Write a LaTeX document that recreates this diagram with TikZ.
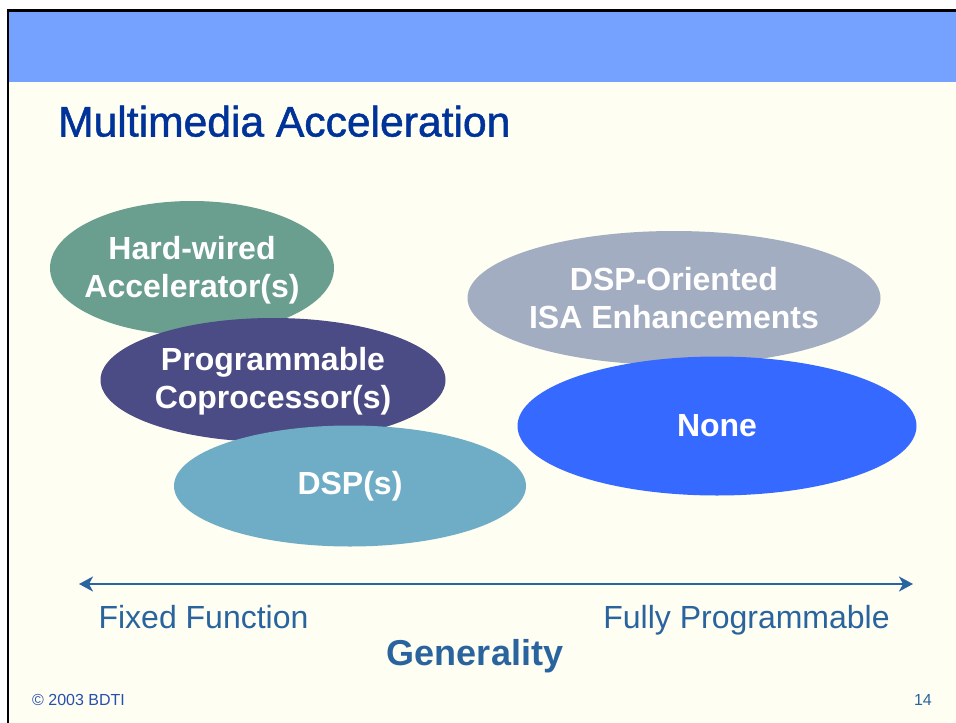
\documentclass[tikz,border=0pt]{standalone}
\usepackage{fontspec}
\setmainfont{Liberation Sans}
\newfontfamily\headfont[FakeBold=1.2]{Liberation Sans}
\usetikzlibrary{shapes.geometric,arrows.meta}

\definecolor{cream}{RGB}{254,254,242}
\definecolor{band}{RGB}{116,162,254}
\definecolor{titleblue}{RGB}{0,51,153}
\definecolor{steel}{RGB}{42,100,158}
\definecolor{footblue}{RGB}{40,80,170}
\definecolor{hwgreen}{RGB}{106,158,143}
\definecolor{copurple}{RGB}{75,75,133}
\definecolor{dspteal}{RGB}{110,173,197}
\definecolor{isagrey}{RGB}{163,173,193}
\definecolor{noneblue}{RGB}{54,105,255}

\tikzset{
  blob/.style={ellipse, draw=none, inner sep=0pt},
  blobtext/.style={text=white, align=center, font=\fontsize{32}{38}\selectfont\bfseries},
  axislabel/.style={text=steel, anchor=base, inner sep=0pt, font=\fontsize{32}{38}\selectfont},
  footer/.style={inner sep=0pt, font=\fontsize{16}{19}\selectfont}
}

\begin{document}
\begin{tikzpicture}[x=1pt, y=-1pt]
  \useasboundingbox (0,0) rectangle (956,723);
  \clip (0,0) rectangle (956,723);

  % slide page, header band and frame
  \fill[white] (0,0) rectangle (956,723);
  \fill[cream] (7.8,10.5) rectangle (970,740);
  \fill[band] (9,12) rectangle (970,82);
  \draw[black, line width=2.5pt] (7.8,740) -- (7.8,10.5) -- (970,10.5);

  % title
  \node[anchor=base west, inner sep=0pt, text=titleblue,
        font=\headfont\fontsize{42.6}{50}\selectfont] (title) at (58,136.5) {Multimedia Acceleration};

  % left group of ellipses (back to front)
  \node[blob, fill=hwgreen, minimum width=284pt, minimum height=134pt] (hw) at (192,268) {};
  \node[blobtext] (hwt) at ([yshift=-2pt]hw.center) {Hard-wired\\Accelerator(s)};
  \node[blob, fill=copurple, minimum width=345pt, minimum height=124pt] (cp) at (273,380) {};
  \node[blobtext] (cpt) at ([yshift=-1pt]cp.center) {Programmable\\Coprocessor(s)};
  \node[blob, fill=dspteal, minimum width=352pt, minimum height=121pt] (dsp) at (350,486) {};
  \node[blobtext] (dspt) at (dsp.center) {DSP(s)};

  % right group of ellipses
  \node[blob, fill=isagrey, minimum width=413pt, minimum height=134pt] (isa) at (674,298) {};
  \node[blobtext] (isat) at (isa.center) {DSP-Oriented\\ISA Enhancements};
  \node[blob, fill=noneblue, minimum width=399pt, minimum height=139pt] (none) at (717,426) {};
  \node[blobtext] (nonet) at (none.center) {None};

  % generality axis
  \coordinate (lo) at (79,584);
  \coordinate (hi) at (913,584);
  \draw[steel, line width=2pt,
        {Stealth[length=14pt,width=15pt,inset=4pt]}-{Stealth[length=14pt,width=15pt,inset=4pt]}]
        (lo) -- (hi);
  \node[axislabel] (fixed) at (203.5,628) {Fixed Function};
  \node[axislabel] (fully) at (746.5,628) {Fully Programmable};
  \node[axislabel, font=\fontsize{36}{42}\selectfont\bfseries] (gen) at (475,665) {Generality};

  % footer
  \node[footer, anchor=base west, text=footblue] (copy) at (32,705) {© 2003 BDTI};
  \node[footer, anchor=base east, text=steel] (page) at (932,705) {14};
\end{tikzpicture}
\end{document}
